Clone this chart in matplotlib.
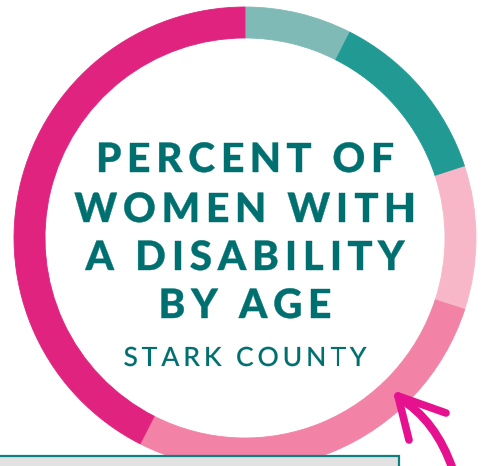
import matplotlib
matplotlib.use('Agg')
import matplotlib.pyplot as plt
from matplotlib.patches import Rectangle, PathPatch
from matplotlib.path import Path
from matplotlib.textpath import TextPath
from matplotlib.font_manager import FontProperties, findfont
from matplotlib.ft2font import FT2Font, LoadFlags

# ring shares (percent), clockwise from 12 o'clock
shares = [7.5, 12.5, 10.0, 27.5, 42.5]
ring_colors = ['#80bab6', '#219a94', '#f8b7c9', '#f282a6', '#e0237f']

title_lines = ['PERCENT OF', 'WOMEN WITH', 'A DISABILITY', 'BY AGE']
subtitle = 'STARK COUNTY'

TEXT = '#006f70'
W, H = 482, 466

fig = plt.figure(figsize=(W / 100, H / 100), dpi=100)
ax = fig.add_axes([0, 0, 1, 1])

# donut ring
cx, cy, r_out, ring_w = 245, H - 238, 231, 31
wedges, _ = ax.pie(shares, colors=ring_colors, startangle=90, counterclock=False,
                   center=(cx, cy), radius=r_out,
                   wedgeprops=dict(width=ring_w, linewidth=0.6))
for w in wedges:
    w.set_edgecolor(w.get_facecolor())


def advances(s, fp, size):
    font = FT2Font(findfont(fp))
    font.set_size(size, 72)
    out = []
    for c in s:
        g = font.load_char(ord(c), flags=LoadFlags.NO_HINTING)
        out.append(g.linearHoriAdvance / 65536)
    return out


def tracked(s, y, size, weight, track, lw=0.3):
    fp = FontProperties(family='Lato', weight=weight)
    adv = advances(s, fp, size)
    total = sum(adv) + track * (len(s) - 1)
    x = cx - total / 2
    for c, a in zip(s, adv):
        if c != ' ':
            tp = TextPath((x, y), c, size=size, prop=fp)
            ax.add_patch(PathPatch(tp, facecolor=TEXT, edgecolor=TEXT,
                                   lw=lw, zorder=5))
        x += a + track


title_size = 40.5
title_weight = 'black'
fp_t = FontProperties(family='Lato', weight=title_weight)
nat = sum(advances(title_lines[0], fp_t, title_size))
title_track = (298 - nat) / (len(title_lines[0]) - 1)

baselines = [172, 222, 270, 318]
for line, b in zip(title_lines, baselines):
    tracked(line, H - b, title_size, title_weight, title_track)

sub_size = 26.5
sub_weight = 'medium'
fp_s = FontProperties(family='Lato', weight=sub_weight)
nat_s = sum(advances(subtitle, fp_s, sub_size))
sub_track = (243 - nat_s) / (len(subtitle) - 1)
tracked(subtitle, H - 366, sub_size, sub_weight, sub_track, lw=0.1)

# arrow pointing at the ring
arrow_c = '#e5118f'
shaft = Path([(453, H - 470), (436, H - 420), (399, H - 398)],
             [Path.MOVETO, Path.CURVE3, Path.CURVE3])
ax.add_patch(PathPatch(shaft, facecolor='none', edgecolor=arrow_c, lw=6,
                       capstyle='round', zorder=6))
for end in [(446, H - 413), (409, H - 440)]:
    ax.plot([398, end[0]], [H - 396, end[1]], color=arrow_c, lw=5.5,
            solid_capstyle='round', zorder=6)

# grey box along the bottom
ax.add_patch(Rectangle((-5, -10), 404, 20, facecolor='#e2e2e2',
                       edgecolor='#0e8080', lw=1.6, zorder=7))

ax.set_xlim(0, W)
ax.set_ylim(0, H)
ax.set_aspect('equal')
ax.axis('off')
fig.savefig('out.png', dpi=100)
